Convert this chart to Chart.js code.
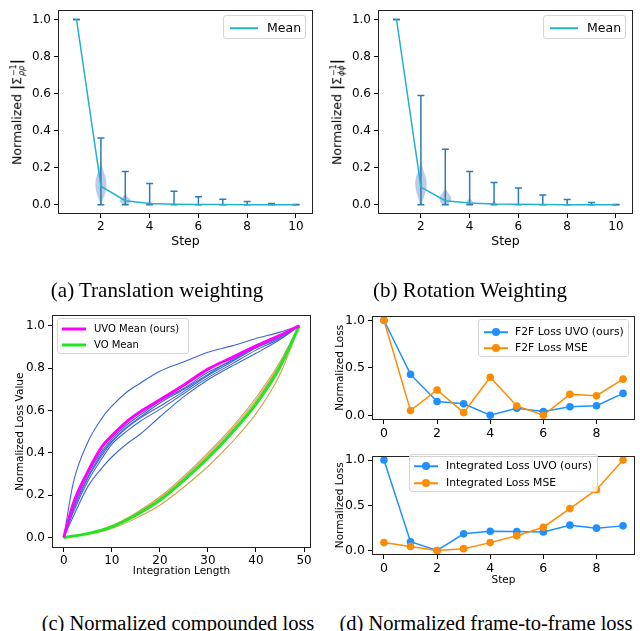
<!DOCTYPE html>
<html>
<head>
<meta charset="utf-8">
<script src="https://cdn.jsdelivr.net/npm/chart.js@4.4.1/dist/chart.umd.min.js"></script>
<style>
  body { margin: 0; background: #fff; font-family: "DejaVu Sans", sans-serif; }
  #page { position: relative; width: 640px; height: 631px; overflow: hidden; background: #fff; }
  .panel { position: absolute; }
  .panel canvas { display: block; }
  .caption { position: absolute; font-family: "Liberation Serif", serif; font-size: 21px; line-height: 1; white-space: nowrap; transform: translateX(-50%); color: #000; }
  .ytitle { position: absolute; transform: translate(-50%, -50%) rotate(-90deg); font-size: 12.5px; white-space: nowrap; color: #000; }
  .ytitle b { font-weight: bold; font-size: 14px; }
  .ss { display: inline-flex; flex-direction: column; font-size: 8px; line-height: 8px; vertical-align: middle; margin-left: 1px; }
  .legend { position: absolute; border: 1px solid #d6d6d6; border-radius: 3px; background: rgba(255,255,255,0.8); box-sizing: border-box; }
  .legend .ln { position: absolute; transform: translateY(-50%); }
  .legend .mk { position: absolute; width: 8px; height: 8px; border-radius: 50%; transform: translate(-50%, -50%); }
  .legend .tx { position: absolute; transform: translateY(-50%); line-height: 1; white-space: nowrap; color: #000; }
</style>
</head>
<body>
<div id="page">
  <div class="panel" style="left:0;top:0"><canvas id="chartA" width="320" height="260"></canvas></div>
  <div class="panel" style="left:320px;top:0"><canvas id="chartB" width="320" height="260"></canvas></div>
  <div class="panel" style="left:0;top:305px"><canvas id="chartC" width="330" height="290"></canvas></div>
  <div class="panel" style="left:330px;top:305px"><canvas id="chartD1" width="310" height="140"></canvas></div>
  <div class="panel" style="left:330px;top:445px"><canvas id="chartD2" width="310" height="150"></canvas></div>

  <div class="ytitle" style="left:17px;top:112px">Normalized <b>|</b>Σ<span class="ss"><span>−1</span><i>ρρ</i></span><b>|</b></div>
  <div class="ytitle" style="left:337px;top:112px">Normalized <b>|</b>Σ<span class="ss"><span>−1</span><i>ϕϕ</i></span><b>|</b></div>

  <div class="legend" style="left:223px;top:15px;width:83px;height:24px">
    <span class="ln" style="left:6px;top:12px;width:28px;height:1.5px;background:#22b2cc"></span>
    <span class="tx" style="left:43px;top:12px;font-size:12.5px">Mean</span>
  </div>
  <div class="legend" style="left:543px;top:15px;width:83px;height:24px">
    <span class="ln" style="left:6px;top:12px;width:28px;height:1.5px;background:#22b2cc"></span>
    <span class="tx" style="left:43px;top:12px;font-size:12.5px">Mean</span>
  </div>

  <div class="legend" style="left:57px;top:318px;width:132px;height:36px">
    <span class="ln" style="left:4px;top:10px;width:24px;height:3px;background:#ff00ff"></span>
    <span class="tx" style="left:36px;top:10px;font-size:10px">UVO Mean (ours)</span>
    <span class="ln" style="left:4px;top:26px;width:24px;height:3px;background:#22e622"></span>
    <span class="tx" style="left:36px;top:26px;font-size:10px">VO Mean</span>
  </div>

  <div class="legend" style="left:478px;top:319px;width:151px;height:38px">
    <span class="ln" style="left:5px;top:12px;width:24px;height:1.5px;background:#1e90ff"></span>
    <span class="mk" style="left:17px;top:12px;background:#1e90ff"></span>
    <span class="tx" style="left:36px;top:12px;font-size:10.8px">F2F Loss UVO (ours)</span>
    <span class="ln" style="left:5px;top:28px;width:24px;height:1.5px;background:#ff8c00"></span>
    <span class="mk" style="left:17px;top:28px;background:#ff8c00"></span>
    <span class="tx" style="left:36px;top:28px;font-size:10.8px">F2F Loss MSE</span>
  </div>

  <div class="legend" style="left:409px;top:454px;width:189px;height:38px">
    <span class="ln" style="left:4px;top:11px;width:24px;height:1.5px;background:#1e90ff"></span>
    <span class="mk" style="left:16px;top:11px;background:#1e90ff"></span>
    <span class="tx" style="left:36px;top:11px;font-size:10.8px">Integrated Loss UVO (ours)</span>
    <span class="ln" style="left:4px;top:28px;width:24px;height:1.5px;background:#ff8c00"></span>
    <span class="mk" style="left:16px;top:28px;background:#ff8c00"></span>
    <span class="tx" style="left:36px;top:28px;font-size:10.8px">Integrated Loss MSE</span>
  </div>

  <div class="caption" style="left:157px;top:280px">(a) Translation weighting</div>
  <div class="caption" style="left:470px;top:280px">(b) Rotation Weighting</div>
  <div class="caption" style="left:178px;top:613px;font-size:20.5px">(c) Normalized compounded loss</div>
  <div class="caption" style="left:486px;top:613px;font-size:20.5px">(d) Normalized frame-to-frame loss</div>
</div>

<script>
// ==============================
// DATA
// ==============================
const FONT = "DejaVu Sans";

const steps = [1, 2, 3, 4, 5, 6, 7, 8, 9, 10];
const stepTicks = [2, 4, 6, 8, 10];
const unitTicks = [0, 0.2, 0.4, 0.6, 0.8, 1.0];
const halfTicks = [0, 0.5, 1.0];

// (a) translation weighting
const transMean = [1.0, 0.1, 0.022, 0.007, 0.003, 0.0015, 0.0008, 0.0004, 0.0002, 0.0001];
const transMin = [1.0, 0, 0, 0, 0, 0, 0, 0, 0, 0];
const transMax = [1.0, 0.36, 0.18, 0.115, 0.073, 0.043, 0.03, 0.017, 0.006, 0.001];
const transViolinSteps = [2, 3, 4, 5];
const transViolinLevels = [
    [0, 0.03, 0.06, 0.09, 0.12, 0.15, 0.18, 0.21, 0.235],
    [0, 0.01, 0.02, 0.03, 0.04, 0.05, 0.06],
    [0, 0.005, 0.01, 0.015, 0.02],
    [0, 0.004, 0.008]
];
const transViolinWidths = [
    [0.02, 0.09, 0.17, 0.22, 0.23, 0.19, 0.11, 0.04, 0],
    [0.06, 0.18, 0.24, 0.2, 0.12, 0.05, 0],
    [0.1, 0.16, 0.12, 0.05, 0],
    [0.08, 0.1, 0]
];

// (b) rotation weighting
const rotMean = [1.0, 0.095, 0.022, 0.009, 0.004, 0.002, 0.001, 0.0005, 0.0003, 0.0001];
const rotMin = [1.0, 0, 0, 0, 0, 0, 0, 0, 0, 0];
const rotMax = [1.0, 0.59, 0.30, 0.18, 0.12, 0.09, 0.053, 0.028, 0.012, 0.001];
const rotViolinSteps = [2, 3, 4, 5];
const rotViolinLevels = [
    [0, 0.03, 0.06, 0.09, 0.12, 0.15, 0.18, 0.21, 0.25],
    [0, 0.015, 0.03, 0.045, 0.06, 0.075, 0.09],
    [0, 0.01, 0.02, 0.03, 0.04],
    [0, 0.01, 0.02]
];
const rotViolinWidths = [
    [0.03, 0.1, 0.17, 0.22, 0.24, 0.2, 0.12, 0.05, 0],
    [0.1, 0.2, 0.25, 0.22, 0.14, 0.06, 0],
    [0.08, 0.14, 0.11, 0.05, 0],
    [0.1, 0.08, 0]
];

// (c) compounded loss
const lengthTicks = [0, 10, 20, 30, 40, 50];
const uvoLength = [0, 2, 5, 8, 10, 13, 16, 20, 25, 30, 35, 40, 45, 49];
const uvoMean = [0, 0.16, 0.31, 0.43, 0.48, 0.545, 0.595, 0.65, 0.72, 0.795, 0.85, 0.905, 0.955, 1.0];
const uvoRuns = [
    [0, 0.26, 0.45, 0.565, 0.62, 0.685, 0.73, 0.785, 0.83, 0.875, 0.905, 0.94, 0.97, 1.0],
    [0, 0.15, 0.3, 0.41, 0.465, 0.53, 0.58, 0.645, 0.705, 0.78, 0.835, 0.9, 0.95, 1.0],
    [0, 0.13, 0.28, 0.39, 0.45, 0.515, 0.565, 0.62, 0.69, 0.765, 0.83, 0.895, 0.945, 1.0],
    [0, 0.12, 0.265, 0.375, 0.44, 0.5, 0.55, 0.605, 0.68, 0.755, 0.82, 0.885, 0.94, 1.0],
    [0, 0.14, 0.285, 0.4, 0.455, 0.52, 0.57, 0.635, 0.7, 0.77, 0.84, 0.9, 0.95, 1.0],
    [0, 0.1, 0.24, 0.33, 0.38, 0.44, 0.49, 0.57, 0.665, 0.745, 0.81, 0.87, 0.935, 1.0]
];
const voLength = [0, 5, 10, 15, 20, 25, 30, 35, 40, 45, 49];
const voMean = [0, 0.018, 0.05, 0.105, 0.175, 0.27, 0.375, 0.495, 0.63, 0.805, 1.0];
const voRuns = [
    [0, 0.02, 0.056, 0.116, 0.192, 0.29, 0.4, 0.52, 0.66, 0.83, 1.0],
    [0, 0.019, 0.053, 0.111, 0.185, 0.282, 0.39, 0.51, 0.648, 0.82, 1.0],
    [0, 0.018, 0.05, 0.107, 0.178, 0.275, 0.38, 0.5, 0.637, 0.812, 1.0],
    [0, 0.015, 0.042, 0.09, 0.152, 0.238, 0.335, 0.45, 0.585, 0.77, 1.0]
];

// (d) frame-to-frame loss
const lossSteps = [0, 1, 2, 3, 4, 5, 6, 7, 8, 9];
const lossTicks = [0, 2, 4, 6, 8];
const f2fUvo = [1.0, 0.43, 0.144, 0.12, 0.0, 0.074, 0.04, 0.09, 0.1, 0.23];
const f2fMse = [1.0, 0.049, 0.266, 0.028, 0.40, 0.098, 0.0, 0.22, 0.206, 0.38];
const integratedUvo = [1.0, 0.097, 0.0, 0.184, 0.212, 0.209, 0.205, 0.28, 0.247, 0.272];
const integratedMse = [0.087, 0.045, 0.0, 0.02, 0.087, 0.163, 0.257, 0.463, 0.672, 1.0];


// ==============================
// Helpers
// ==============================
function points(xs, ys) {
    return xs.map((x, i) => ({ x: x, y: ys[i] }));
}

// min-max bars, broken by null points
function rangeBars(xs, lows, highs) {
    const pts = [];
    xs.forEach((x, i) => {
        pts.push({ x: x, y: lows[i] }, { x: x, y: highs[i] }, { x: x, y: null });
    });
    return pts;
}

// full box around the plot area
const framePlugin = {
    id: "frame",
    afterDatasetsDraw(chart) {
        const { ctx, chartArea } = chart;
        const l = Math.round(chartArea.left) + 0.5;
        const t = Math.round(chartArea.top) + 0.5;
        const r = Math.round(chartArea.right) - 0.5;
        const b = Math.round(chartArea.bottom) - 0.5;
        ctx.save();
        ctx.strokeStyle = "#222";
        ctx.lineWidth = 1;
        ctx.strokeRect(l, t, r - l, b - t);
        ctx.restore();
    }
};

function makeViolinPlugin(stepList, levels, widths) {
    return {
        id: "violins",
        beforeDatasetsDraw(chart) {
            const { ctx, scales } = chart;
            const x = scales.x;
            const y = scales.y;
            ctx.save();
            ctx.fillStyle = "rgba(110, 140, 200, 0.45)";
            stepList.forEach((step, i) => {
                const lv = levels[i];
                const w = widths[i];
                ctx.beginPath();
                lv.forEach((v, j) => {
                    const px = x.getPixelForValue(step + w[j]);
                    const py = y.getPixelForValue(v);
                    if (j === 0) ctx.moveTo(px, py); else ctx.lineTo(px, py);
                });
                for (let j = lv.length - 1; j >= 0; j--) {
                    ctx.lineTo(x.getPixelForValue(step - w[j]), y.getPixelForValue(lv[j]));
                }
                ctx.closePath();
                ctx.fill();
            });
            ctx.restore();
        }
    };
}

function makeScales(s) {
    return {
        x: {
            type: "linear",
            min: s.xMin,
            max: s.xMax,
            afterBuildTicks: scale => { scale.ticks = s.xTicks.map(v => ({ value: v })); },
            afterFit: scale => { scale.height = s.xHeight; },
            grid: { drawOnChartArea: false, color: "#000", tickLength: 4 },
            border: { display: false },
            ticks: {
                color: "#000", padding: 2, maxRotation: 0, autoSkip: false,
                font: { family: FONT, size: s.tickSize },
                callback: v => String(v)
            },
            title: {
                display: !!s.xTitle, text: s.xTitle, color: "#000",
                font: { family: FONT, size: s.titleSize },
                padding: { top: 0, bottom: s.xTitlePad }
            }
        },
        y: {
            type: "linear",
            min: -0.05,
            max: 1.05,
            afterBuildTicks: scale => { scale.ticks = s.yTicks.map(v => ({ value: v })); },
            afterFit: scale => { scale.width = s.yWidth; },
            grid: { drawOnChartArea: false, color: "#000", tickLength: 4 },
            border: { display: false },
            ticks: {
                color: "#000", padding: 3, autoSkip: false,
                font: { family: FONT, size: s.tickSize },
                callback: v => v.toFixed(1)
            },
            title: {
                display: !!s.yTitle, text: s.yTitle, color: "#000",
                font: { family: FONT, size: s.titleSize },
                padding: { top: s.yTitlePad, bottom: 0 }
            }
        }
    };
}

const baseOptions = {
    responsive: false,
    animation: false,
    devicePixelRatio: 1,
    plugins: { legend: { display: false }, tooltip: { enabled: false } },
    elements: { point: { hoverRadius: 0 } }
};


// ==============================
// (a) / (b) weighting charts
// ==============================
function renderWeightChart(id, mean, mins, maxs, vSteps, vLevels, vWidths) {
    new Chart(document.getElementById(id), {
        type: "scatter",
        data: {
            datasets: [
                {
                    data: points(steps, mean),
                    showLine: true,
                    borderColor: "#22b2cc",
                    borderWidth: 1.5,
                    pointRadius: 0
                },
                {
                    data: rangeBars(steps, mins, maxs),
                    showLine: true,
                    spanGaps: false,
                    borderColor: "#2b7bba",
                    borderWidth: 1.5,
                    pointStyle: "line",
                    pointRadius: 3.5,
                    pointBorderWidth: 1.5,
                    pointBorderColor: "#2b7bba"
                }
            ]
        },
        options: Object.assign({}, baseOptions, {
            layout: { padding: { left: 0, top: 9, right: 7, bottom: 0 } },
            scales: makeScales({
                xMin: 0.24, xMax: 10.7, xTicks: stepTicks, xHeight: 46,
                yTicks: unitTicks, yWidth: 58, tickSize: 12, titleSize: 12.5,
                xTitle: "Step", xTitlePad: 11
            })
        }),
        plugins: [framePlugin, makeViolinPlugin(vSteps, vLevels, vWidths)]
    });
}


// ==============================
// (c) compounded loss chart
// ==============================
function renderCompoundChart() {
    const datasets = [
        { data: points(uvoLength, uvoMean), borderColor: "#ff00ff", borderWidth: 3 },
        { data: points(voLength, voMean), borderColor: "#22e622", borderWidth: 3 }
    ];
    uvoRuns.forEach(run => {
        datasets.push({ data: points(uvoLength, run), borderColor: "#3a66d6", borderWidth: 1.1 });
    });
    voRuns.forEach(run => {
        datasets.push({ data: points(voLength, run), borderColor: "#d4a04c", borderWidth: 1.1 });
    });
    datasets.forEach(ds => {
        ds.showLine = true;
        ds.pointRadius = 0;
        ds.cubicInterpolationMode = "monotone";
    });

    new Chart(document.getElementById("chartC"), {
        type: "scatter",
        data: { datasets: datasets },
        options: Object.assign({}, baseOptions, {
            layout: { padding: { left: 0, top: 8, right: 19, bottom: 0 } },
            scales: makeScales({
                xMin: -2.45, xMax: 51.45, xTicks: lengthTicks, xHeight: 47,
                yTicks: unitTicks, yWidth: 52, tickSize: 12, titleSize: 10.5,
                xTitle: "Integration Length", xTitlePad: 17,
                yTitle: "Normalized Loss Value", yTitlePad: 14
            })
        }),
        plugins: [framePlugin]
    });
}


// ==============================
// (d) frame-to-frame loss charts
// ==============================
function renderLossChart(id, uvo, mse, pad, xHeight, xTitle) {
    const lineStyle = (color, order) => ({
        showLine: true,
        borderColor: color,
        backgroundColor: color,
        borderWidth: 1.5,
        pointRadius: 3.8,
        pointBorderWidth: 0,
        order: order
    });

    new Chart(document.getElementById(id), {
        type: "scatter",
        data: {
            datasets: [
                Object.assign({ data: points(lossSteps, uvo) }, lineStyle("#1e90ff", 2)),
                Object.assign({ data: points(lossSteps, mse) }, lineStyle("#ff8c00", 1))
            ]
        },
        options: Object.assign({}, baseOptions, {
            layout: { padding: pad },
            scales: makeScales({
                xMin: -0.45, xMax: 9.45, xTicks: lossTicks, xHeight: xHeight,
                yTicks: halfTicks, yWidth: 42, tickSize: 12.5, titleSize: 10.5,
                xTitle: xTitle, xTitlePad: 8,
                yTitle: "Normalized Loss", yTitlePad: 4
            })
        }),
        plugins: [framePlugin]
    });
}

renderWeightChart("chartA", transMean, transMin, transMax, transViolinSteps, transViolinLevels, transViolinWidths);
renderWeightChart("chartB", rotMean, rotMin, rotMax, rotViolinSteps, rotViolinLevels, rotViolinWidths);
renderCompoundChart();
renderLossChart("chartD1", f2fUvo, f2fMse, { left: 0, top: 10, right: 5, bottom: 0 }, 25, "");
renderLossChart("chartD2", integratedUvo, integratedMse, { left: 0, top: 4, right: 5, bottom: 0 }, 40, "Step");
</script>
</body>
</html>
